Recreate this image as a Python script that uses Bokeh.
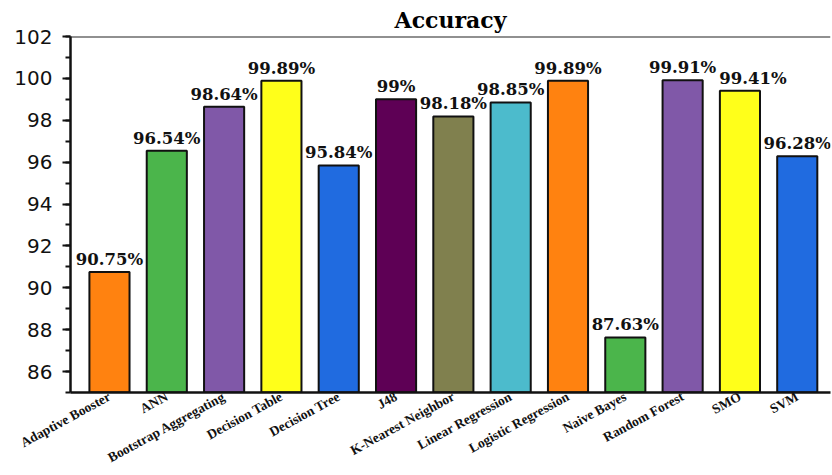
from bokeh.plotting import figure
from bokeh.models import ColumnDataSource, FixedTicker, SingleIntervalTicker, Span, Range1d
from bokeh.core.properties import value
from bokeh.embed import file_html
from bokeh.resources import INLINE

categories = ["Adaptive Booster", "ANN", "Bootstrap Aggregating", "Decision Table",
              "Decision Tree", "J48", "K-Nearest Neighbor", "Linear Regression",
              "Logistic Regression", "Naive Bayes", "Random Forest", "SMO", "SVM"]
accuracy = [90.75, 96.54, 98.64, 99.89, 95.84, 99.0, 98.18, 98.85, 99.89, 87.63, 99.91, 99.41, 96.28]
value_labels = ["90.75%", "96.54%", "98.64%", "99.89%", "95.84%", "99%", "98.18%",
                "98.85%", "99.89%", "87.63%", "99.91%", "99.41%", "96.28%"]
colors = ["#FF8210", "#4BB54B", "#8058A8", "#FFFF1A", "#206BE0", "#5E0055", "#80804E",
          "#4CBBCC", "#FF8210", "#4BB54B", "#8058A8", "#FFFF1A", "#206BE0"]

xs = list(range(len(categories)))
# nudge the SMO value label right so it clears its neighbour
label_dx = [13 if c == "SMO" else 0 for c in categories]
source = ColumnDataSource(dict(x=xs, top=accuracy, label=value_labels, color=colors, dx=label_dx))

serif = "DejaVu Serif"

p = figure(width=832, height=475, output_backend="svg", toolbar_location=None,
           x_range=Range1d(-0.68, len(categories) - 1 + 0.58), y_range=Range1d(85, 102),
           title="Accuracy", min_border_left=70, min_border_right=2,
           min_border_bottom=83, min_border_top=36)
p.outline_line_color = None
p.background_fill_color = "white"
p.xgrid.visible = False
p.ygrid.visible = False

p.title.align = "center"
p.title.text_font = serif
p.title.text_font_style = "bold"
p.title.text_font_size = "22px"
p.title.text_color = "black"
p.title.standoff = 8

p.vbar(x="x", top="top", bottom=85, width=0.7, source=source,
       fill_color="color", line_color="#111111", line_width=2)

p.text(x="x", y="top", text="label", source=source, text_align="center",
       text_baseline="bottom", x_offset="dx", y_offset=-3, text_font=value(serif),
       text_font_style="bold", text_font_size="16.5px", text_color="#111111")

# top frame line
p.add_layout(Span(location=102, dimension="width", line_color="#222222", line_width=2))

# y axis
yax = p.yaxis[0]
yax.ticker = SingleIntervalTicker(interval=2, num_minor_ticks=2)
yax.axis_line_width = 2.5
yax.axis_line_color = "#111111"
yax.major_tick_line_width = 2
yax.major_tick_line_color = "#111111"
yax.major_tick_out = 8
yax.major_tick_in = 0
yax.minor_tick_line_width = 2
yax.minor_tick_line_color = "#111111"
yax.minor_tick_out = 5
yax.minor_tick_in = 0
yax.major_label_text_font = "DejaVu Sans"
yax.major_label_text_font_size = "20px"
yax.major_label_text_color = "#111111"
yax.major_label_standoff = 10

# x axis with rotated category names
xax = p.xaxis[0]
xax.ticker = FixedTicker(ticks=xs)
xax.major_label_overrides = {i: c for i, c in zip(xs, categories)}
xax.major_label_orientation = 0.5
xax.axis_line_width = 2.5
xax.axis_line_color = "#111111"
xax.major_tick_line_color = None
xax.major_tick_out = 0
xax.major_tick_in = 0
xax.minor_tick_line_color = None
xax.minor_tick_out = 0
xax.major_label_text_font = "Liberation Serif"
xax.major_label_text_font_style = "bold"
xax.major_label_text_font_size = "13.5px"
xax.major_label_text_color = "#111111"
xax.major_label_standoff = 3

open("out.html", "w").write(file_html(p, INLINE))
